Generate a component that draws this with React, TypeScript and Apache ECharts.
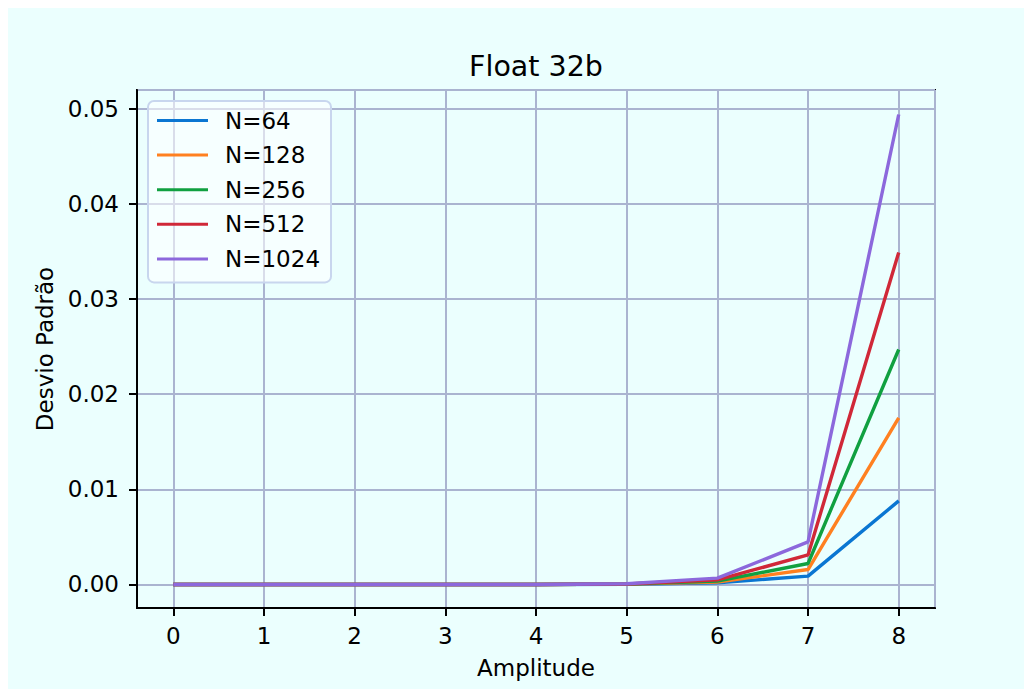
import React, { useEffect, useRef } from "react";
import * as echarts from "echarts";

const amplitudes = [0, 1, 2, 3, 4, 5, 6, 7, 8];
const seriesNames = ["N=64", "N=128", "N=256", "N=512", "N=1024"];
const n64 = [0, 0, 0, 0, 0, 0.00002, 0.00018, 0.00087, 0.00878];
const n128 = [0, 0, 0, 0, 0, 0.00003, 0.00025, 0.00157, 0.0175];
const n256 = [0, 0, 0, 0, 0, 0.00004, 0.00035, 0.0022, 0.0247];
const n512 = [0, 0, 0, 0, 0, 0.00005, 0.00048, 0.0031, 0.0349];
const n1024 = [0, 0, 0, 0, 0, 0.00007, 0.00066, 0.00447, 0.0494];
const colors = ["#0a76d2", "#ff8020", "#10a040", "#d02838", "#8c68dc"];

const FONT = "DejaVu Sans";

export default function App() {
  const ref = useRef<HTMLDivElement>(null);
  useEffect(() => {
    if (!ref.current) return;
    const chart = echarts.init(ref.current, undefined, { renderer: "svg" });
    const all = [n64, n128, n256, n512, n1024];
    chart.setOption({
      animation: false,
      backgroundColor: "#ebfffe",
      graphic: [
        {
          type: "text",
          x: 528,
          y: 58,
          style: {
            text: "Float 32b",
            font: `28.5px "${FONT}"`,
            fill: "#000",
            textAlign: "center",
            textVerticalAlign: "middle",
          },
        },
      ],
      grid: {
        left: 129,
        top: 82,
        width: 798,
        height: 518,
        show: true,
        borderColor: "#000",
        borderWidth: 2,
        backgroundColor: "transparent",
      },
      legend: {
        orient: "vertical",
        left: 140,
        top: 93,
        padding: [8, 11, 12, 9],
        itemGap: 11.6,
        itemWidth: 51,
        itemHeight: 3,
        icon: "rect",
        backgroundColor: "rgba(255,255,255,0.55)",
        borderColor: "#c8d6ee",
        borderWidth: 2,
        borderRadius: 6,
        textStyle: {
          fontFamily: FONT,
          fontSize: 23,
          lineHeight: 23,
          color: "#000",
          padding: [0, 0, 0, 12],
        },
        data: seriesNames,
      },
      xAxis: {
        type: "value",
        min: -0.4,
        max: 8.4,
        splitNumber: 8,
        name: "Amplitude",
        nameLocation: "middle",
        nameGap: 48,
        nameTextStyle: { fontFamily: FONT, fontSize: 23, color: "#000" },
        axisLine: { show: true, onZero: false, lineStyle: { color: "#000", width: 2 } },
        axisTick: { show: true, length: 8, lineStyle: { color: "#000", width: 2 } },
        axisLabel: {
          showMinLabel: false,
          showMaxLabel: false,
          margin: 16,
          fontFamily: FONT,
          fontSize: 23,
          color: "#000",
        },
        splitLine: { show: true, lineStyle: { color: "#aab4d0", width: 2 } },
      },
      yAxis: {
        type: "value",
        min: -0.002475,
        max: 0.051975,
        splitNumber: 5,
        name: "Desvio Padrão",
        nameLocation: "middle",
        nameGap: 81,
        nameTextStyle: { fontFamily: FONT, fontSize: 23, color: "#000" },
        axisLine: { show: true, onZero: false, lineStyle: { color: "#000", width: 2 } },
        axisTick: { show: true, length: 8, lineStyle: { color: "#000", width: 2 } },
        axisLabel: {
          showMinLabel: false,
          showMaxLabel: false,
          margin: 18,
          fontFamily: FONT,
          fontSize: 23,
          color: "#000",
          formatter: (v: number) => v.toFixed(2),
        },
        splitLine: { show: true, lineStyle: { color: "#aab4d0", width: 2 } },
      },
      series: seriesNames.map((name, i) => ({
        name,
        type: "line",
        symbol: "none",
        data: amplitudes.map((x, j) => [x, all[i][j]]),
        lineStyle: { color: colors[i], width: 3.4 },
        itemStyle: { color: colors[i] },
      })),
    });
    return () => chart.dispose();
  }, []);
  return <div ref={ref} style={{ width: 1024, height: 681 }} />;
}
